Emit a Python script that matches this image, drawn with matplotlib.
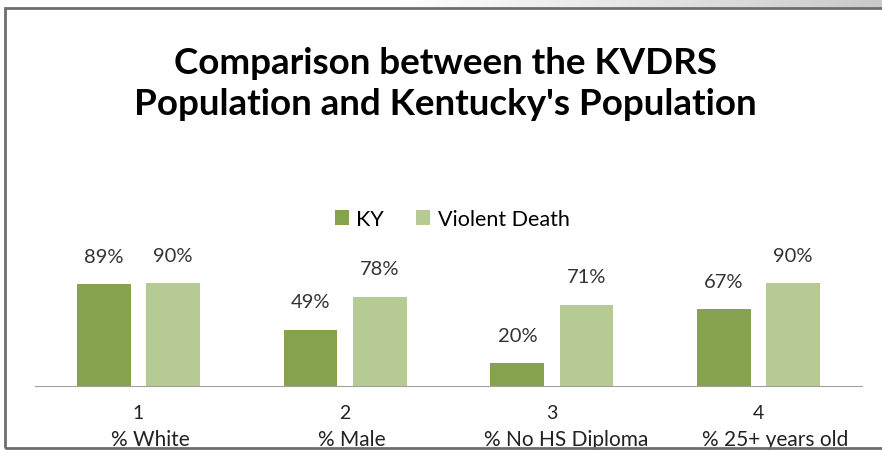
import matplotlib
matplotlib.use("Agg")
import matplotlib.pyplot as plt
import numpy as np
from matplotlib.patches import Rectangle

plt.rcParams['font.family'] = ['Lato', 'DejaVu Sans']

# data
groups = ["1", "2", "3", "4"]
categories = ["% White", "% Male", "% No HS Diploma", "% 25+ years old"]
ky = [0.89, 0.49, 0.20, 0.67]
violent = [0.90, 0.78, 0.71, 0.90]

W, H = 882, 452
fig = plt.figure(figsize=(W / 100, H / 100), dpi=100)

# grey gradient strip across the very top, then the frame
grad_ax = fig.add_axes([0, (H - 9) / H, 1, 9 / H])
grad = np.linspace(0, 1, 256)
grad = np.clip((grad - 0.45) / 0.55, 0, 1)[None, :]
grad_ax.imshow(grad, aspect='auto', cmap=matplotlib.colors.LinearSegmentedColormap.from_list(
    "g", ["#ffffff", "#c9cbc9"]), extent=[0, 1, 0, 1])
grad_ax.axis('off')
fig.patches.append(Rectangle((5 / W, 3 / H), 1.2, (H - 12) / H, transform=fig.transFigure,
                             fill=False, edgecolor="#6f6f6f", linewidth=2))

ax = fig.add_axes([35 / W, (H - 387) / H, (862 - 35) / W, 114.4 / H])
x = np.arange(1, len(groups) + 1)
bw = 0.26
b1 = ax.bar(x - 0.167, ky, bw, color="#87a24f", label="KY")
b2 = ax.bar(x + 0.167, violent, bw, color="#b6ca94", label="Violent Death")

for bars, vals in ((b1, ky), (b2, violent)):
    for r, v in zip(bars, vals):
        ax.annotate(f"{v:.0%}", (r.get_x() + r.get_width() / 2, v), xytext=(0, 14),
                    textcoords="offset points", ha="center", va="bottom",
                    fontsize=14.5, color="#333333")

ax.set_xlim(0.5, 4.5)
ax.set_ylim(0, 1)
ax.set_yticks([])
for s in ("top", "right", "left"):
    ax.spines[s].set_visible(False)
ax.spines["bottom"].set_color("#a0a0a0")
ax.set_xticks(x)
ax.set_xticklabels(groups, fontsize=14, color="#222222")
ax.tick_params(axis="x", length=0, pad=13)

offsets = [0.06, 0.03, 0.07, 0.08]
for xi, lab, off in zip(x, categories, offsets):
    ax.text(xi + off, -0.46, lab, ha="center", va="center", fontsize=15,
            color="#222222", transform=ax.get_xaxis_transform())

fig.text(0.505, (H - 84) / H, "Comparison between the KVDRS\nPopulation and Kentucky's Population",
         ha="center", va="center", fontsize=26.5, fontweight="bold", linespacing=1.3)

fig.legend(handles=[b1, b2], loc="center", bbox_to_anchor=(452 / W, (H - 220) / H),
           ncol=2, frameon=False, fontsize=15.5, handlelength=0.65, handleheight=0.65,
           handletextpad=0.35, columnspacing=1.5)

fig.savefig("out.png", dpi=100)
